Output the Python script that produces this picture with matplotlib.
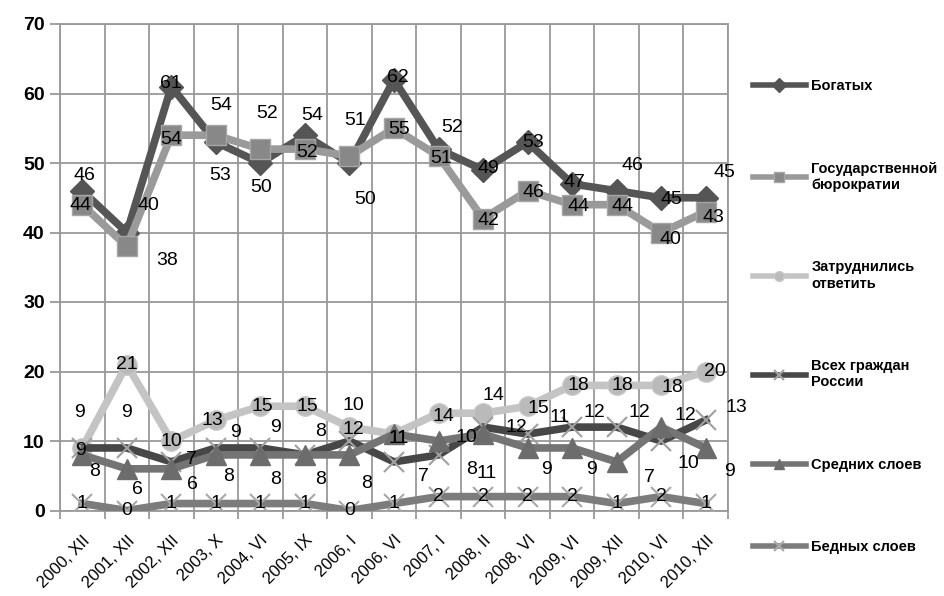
import matplotlib
matplotlib.use('Agg')
import matplotlib.pyplot as plt
from matplotlib.lines import Line2D
import numpy as np

plt.rcParams['font.family'] = ['Liberation Sans', 'DejaVu Sans']

periods = ['2000, XII', '2001, XII', '2002, XII', '2003, X', '2004, VI',
           '2005, IX', '2006, I', '2006, VI', '2007, I', '2008, II',
           '2008, VI', '2009, VI', '2009, XII', '2010, VI', '2010, XII']

rich = [46, 40, 61, 53, 50, 54, 50, 62, 52, 49, 53, 47, 46, 45, 45]
bureaucracy = [44, 38, 54, 54, 52, 52, 51, 55, 51, 42, 46, 44, 44, 40, 43]
hard_to_say = [9, 21, 10, 13, 15, 15, 12, 11, 14, 14, 15, 18, 18, 18, 20]
all_citizens = [9, 9, 7, 9, 9, 8, 10, 7, 8, 12, 11, 12, 12, 10, 13]
middle = [8, 6, 6, 8, 8, 8, 8, 11, 10, 11, 9, 9, 7, 12, 9]
poor = [1, 0, 1, 1, 1, 1, 0, 1, 2, 2, 2, 2, 1, 2, 1]

names = ['Богатых', 'Государственной\nбюрократии', 'Затруднились\nответить',
         'Всех граждан\nРоссии', 'Средних слоев', 'Бедных слоев']

# label offsets in pixels (dx, dy), one per point
off_rich = [(2, 15), (22, 27), (0, 3), (4, -33), (1, -24), (7, 20), (16, -37),
            (4, 2), (14, 22), (5, 1), (6, 0), (2, 1), (16, 25), (10, -2), (19, 25)]
off_bur = [(-2, -1), (40, -14), (0, -4), (5, 30), (7, 36), (2, -3), (6, 36),
           (5, -1), (3, -2), (5, -2), (6, -2), (6, -2), (6, -2), (9, -7), (8, -6)]
off_hard = [(-3, 35), (0, 0), (0, 0), (-3, 0), (2, 0), (2, 0), (4, -2), (5, -4),
            (5, -3), (10, 18), (11, -2), (6, 0), (6, 0), (11, -2), (9, 0)]
off_all = [(-2, -3), (0, 35), (20, 2), (20, 15), (15, 20), (16, 23), (4, 36),
           (29, -15), (33, -15), (33, 0), (32, 17), (22, 15), (23, 15), (27, -22), (31, 13)]
off_mid = [(12, -17), (11, -21), (21, -16), (13, -22), (15, -25), (16, -25), (17, -29),
           (5, -4), (28, 3), (4, -39), (19, -22), (19, -22), (33, -16), (24, 12), (24, -24)]
off_poor = [(0, 0)] * 15

series = [
    (rich, off_rich, dict(color='#555555', marker='D', ms=12, mfc='#555555', mec='#555555')),
    (bureaucracy, off_bur, dict(color='#9a9a9a', marker='s', ms=14, mfc='#888888', mec='#a6a6a6')),
    (hard_to_say, off_hard, dict(color='#c4c4c4', marker='o', ms=14, mfc='#bababa', mec='#c8c8c8')),
    (all_citizens, off_all, dict(color='#474747', marker='x', ms=14, mfc='#a0a0a0', mec='#a0a0a0', mew=1.5)),
    (middle, off_mid, dict(color='#747474', marker='^', ms=15, mfc='#6c6c6c', mec='#6c6c6c')),
    (poor, off_poor, dict(color='#7c7c7c', marker='x', ms=14, mfc='#a8a8a8', mec='#a8a8a8', mew=1.5)),
]

fig = plt.figure(figsize=(9.44, 5.96), dpi=100)
ax = fig.add_axes([60 / 944, 1 - 510.5 / 596, 668 / 944, 486.5 / 596])

x = np.arange(len(periods))
handles = []
for (vals, offs, st), name in zip(series, names):
    ax.plot(x, vals, lw=5.5, solid_joinstyle='miter', zorder=3, **st)
    for xi, v, (dx, dy) in zip(x, vals, offs):
        ax.annotate(str(v), (xi, v), xytext=(dx, dy), textcoords='offset pixels',
                    ha='center', va='center', fontsize=14, color='black', zorder=6)
    hst = dict(st)
    hst['ms'] = 7
    handles.append(Line2D([], [], lw=4, **hst))

ax.set_xlim(-0.5, len(periods) - 0.5)
ax.set_ylim(0, 70)
ax.set_yticks(range(0, 71, 10))
ax.set_yticklabels([str(v) for v in range(0, 71, 10)], fontsize=14, fontweight='bold')
ax.set_xticks(x)
ax.set_xticklabels(periods, rotation=45, ha='right', va='top', fontsize=12,
                   rotation_mode='anchor')
ax.tick_params(axis='x', length=0, pad=16)
ax.set_xticks(np.arange(-0.5, len(periods), 1), minor=True)
ax.tick_params(axis='x', which='minor', length=6, color='#999999', width=1.3)
ax.tick_params(axis='y', length=7, color='#999999', width=1.3, pad=4)
ax.grid(True, axis='y', color='#999999', lw=1.3, zorder=0)
ax.grid(True, axis='x', which='minor', color='#999999', lw=1.3, zorder=0)
for s in ax.spines.values():
    s.set_color('#999999')
    s.set_linewidth(1.3)

fig.legend(handles, names, loc='upper left', bbox_to_anchor=(740 / 944, 1 - 66 / 596),
           frameon=False, handlelength=3.6, labelspacing=4.7, handletextpad=0.4,
           prop={'weight': 'bold', 'size': 10.5})

fig.savefig('out.png', dpi=100)
